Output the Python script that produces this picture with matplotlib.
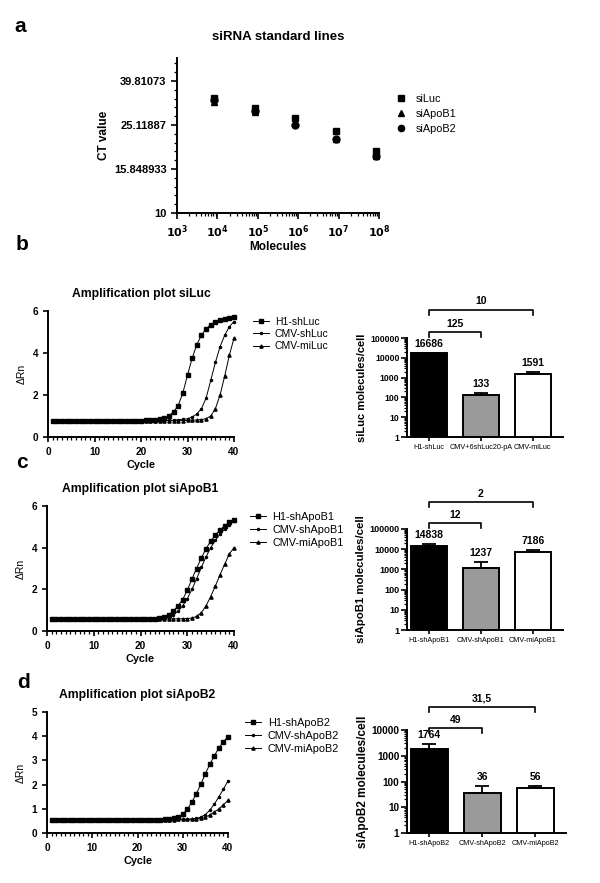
import numpy as np
import matplotlib
matplotlib.use('Agg')
import matplotlib.pyplot as plt
from matplotlib.ticker import FixedLocator, NullFormatter, MultipleLocator, LogLocator

plt.rcParams['font.family'] = ['Liberation Sans', 'DejaVu Sans']

# ---------------- data ----------------
# panel a: standard lines
molecules = [8.4e3, 8.4e4, 8.4e5, 8.4e6, 8.4e7]
ct_siLuc = [33.4, 30.1, 27.0, 23.5, 19.2]
ct_siApoB1 = [32.1, 28.9, 25.3, 21.7, 18.1]
ct_siApoB2 = [32.6, 29.1, 25.1, 21.7, 18.1]
ct_yticks = [10, 15.848933, 25.11887, 39.81073]
ct_yticklabels = ['10', '15.848933', '25.11887', '39.81073']

cycles = list(range(1, 41))

# panel b amplification siLuc
b_H1_shLuc = [0.74, 0.74, 0.74, 0.74, 0.75, 0.75, 0.75, 0.75, 0.75, 0.75,
              0.75, 0.76, 0.76, 0.76, 0.76, 0.77, 0.77, 0.77, 0.78, 0.78,
              0.79, 0.80, 0.82, 0.85, 0.90, 1.00, 1.20, 1.50, 2.10, 2.95,
              3.75, 4.40, 4.85, 5.15, 5.35, 5.48, 5.57, 5.64, 5.69, 5.72]
b_CMV_shLuc = [0.74, 0.74, 0.74, 0.74, 0.74, 0.75, 0.75, 0.75, 0.75, 0.75,
               0.75, 0.75, 0.75, 0.76, 0.76, 0.76, 0.76, 0.76, 0.77, 0.77,
               0.77, 0.77, 0.78, 0.78, 0.79, 0.79, 0.80, 0.82, 0.84, 0.87,
               0.95, 1.10, 1.35, 1.85, 2.70, 3.55, 4.30, 4.85, 5.25, 5.50]
b_CMV_miLuc = [0.74, 0.74, 0.74, 0.74, 0.74, 0.74, 0.75, 0.75, 0.75, 0.75,
               0.75, 0.75, 0.75, 0.75, 0.75, 0.76, 0.76, 0.76, 0.76, 0.76,
               0.76, 0.76, 0.77, 0.77, 0.77, 0.77, 0.78, 0.78, 0.78, 0.79,
               0.80, 0.81, 0.83, 0.87, 1.00, 1.35, 2.00, 2.90, 3.90, 4.70]
b_labels = ['H1-shLuc', 'CMV-shLuc', 'CMV-miLuc']

# panel c amplification siApoB1
c_H1_shApoB1 = [0.56, 0.56, 0.56, 0.56, 0.56, 0.56, 0.56, 0.56, 0.56, 0.56,
                0.56, 0.56, 0.56, 0.56, 0.57, 0.57, 0.57, 0.57, 0.57, 0.58,
                0.58, 0.58, 0.59, 0.62, 0.68, 0.78, 0.95, 1.20, 1.50, 1.95,
                2.50, 3.00, 3.50, 3.95, 4.30, 4.60, 4.85, 5.05, 5.22, 5.35]
c_CMV_shApoB1 = [0.56, 0.56, 0.56, 0.56, 0.56, 0.56, 0.56, 0.56, 0.56, 0.56,
                 0.56, 0.56, 0.56, 0.56, 0.56, 0.57, 0.57, 0.57, 0.57, 0.57,
                 0.58, 0.58, 0.58, 0.59, 0.62, 0.68, 0.78, 0.95, 1.20, 1.55,
                 2.00, 2.50, 3.05, 3.55, 4.00, 4.35, 4.65, 4.90, 5.10, 5.28]
c_CMV_miApoB1 = [0.56, 0.56, 0.56, 0.56, 0.56, 0.56, 0.56, 0.56, 0.56, 0.56,
                 0.56, 0.56, 0.56, 0.56, 0.56, 0.56, 0.56, 0.56, 0.57, 0.57,
                 0.57, 0.57, 0.57, 0.57, 0.58, 0.58, 0.58, 0.59, 0.59, 0.60,
                 0.62, 0.70, 0.88, 1.20, 1.65, 2.15, 2.70, 3.20, 3.70, 4.00]
c_labels = ['H1-shApoB1', 'CMV-shApoB1', 'CMV-miApoB1']

# panel d amplification siApoB2
d_H1_shApoB2 = [0.53, 0.53, 0.53, 0.53, 0.53, 0.53, 0.53, 0.53, 0.53, 0.53,
                0.53, 0.53, 0.53, 0.53, 0.53, 0.54, 0.54, 0.54, 0.54, 0.54,
                0.54, 0.54, 0.55, 0.55, 0.55, 0.56, 0.57, 0.60, 0.66, 0.78,
                0.98, 1.27, 1.62, 2.02, 2.45, 2.85, 3.20, 3.52, 3.78, 3.97]
d_CMV_shApoB2 = [0.53, 0.53, 0.53, 0.53, 0.53, 0.53, 0.53, 0.53, 0.53, 0.53,
                 0.53, 0.53, 0.53, 0.53, 0.53, 0.53, 0.54, 0.54, 0.54, 0.54,
                 0.54, 0.54, 0.54, 0.55, 0.55, 0.55, 0.55, 0.56, 0.56, 0.57,
                 0.57, 0.58, 0.60, 0.66, 0.76, 0.95, 1.20, 1.50, 1.82, 2.15]
d_CMV_miApoB2 = [0.53, 0.53, 0.53, 0.53, 0.53, 0.53, 0.53, 0.53, 0.53, 0.53,
                 0.53, 0.53, 0.53, 0.53, 0.53, 0.53, 0.53, 0.54, 0.54, 0.54,
                 0.54, 0.54, 0.54, 0.54, 0.55, 0.55, 0.55, 0.55, 0.56, 0.56,
                 0.56, 0.57, 0.58, 0.60, 0.65, 0.75, 0.87, 1.00, 1.17, 1.35]
d_labels = ['H1-shApoB2', 'CMV-shApoB2', 'CMV-miApoB2']

# bar charts
bar_b_cats = ['H1-shLuc', 'CMV+6shLuc20-pA', 'CMV-miLuc']
bar_b_vals = [16686, 133, 1591]
bar_b_err = [1300, 40, 220]
bar_b_fold = [('125', 0, 1), ('10', 0, 2)]

bar_c_cats = ['H1-shApoB1', 'CMV-shApoB1', 'CMV-miApoB1']
bar_c_vals = [14838, 1237, 7186]
bar_c_err = [2400, 1150, 1900]
bar_c_fold = [('12', 0, 1), ('2', 0, 2)]

bar_d_cats = ['H1-shApoB2', 'CMV-shApoB2', 'CMV-miApoB2']
bar_d_vals = [1764, 36, 56]
bar_d_err = [1000, 32, 12]
bar_d_fold = [('49', 0, 1), ('31,5', 0, 2)]

bar_colors = ['black', '#9a9a9a', 'white']

# ---------------- figure ----------------
W, H = 600, 883
fig = plt.figure(figsize=(6, 8.83), dpi=100)


def add_ax(l, r, t, b):
    return fig.add_axes([l / W, 1 - b / H, (r - l) / W, (b - t) / H])


def style(ax, lw=1.4):
    for s in ['top', 'right']:
        ax.spines[s].set_visible(False)
    for s in ['left', 'bottom']:
        ax.spines[s].set_linewidth(lw)
    ax.tick_params(which='major', width=1.2, length=4, direction='out')
    ax.tick_params(which='minor', width=0.9, length=2, direction='out')


def bold_ticks(ax, size):
    for lab in ax.get_xticklabels() + ax.get_yticklabels():
        lab.set_fontweight('bold')
        lab.set_fontsize(size)


# ---- panel a ----
ax = add_ax(177, 379, 58, 213)
style(ax)
ax.set_xscale('log')
ax.set_yscale('log')
ax.plot(molecules, ct_siLuc, 's', color='black', ms=5, label='siLuc', clip_on=False)
ax.plot(molecules, ct_siApoB1, '^', color='black', ms=5, label='siApoB1', clip_on=False)
ax.plot(molecules, ct_siApoB2, 'o', color='black', ms=5, label='siApoB2', clip_on=False)
ax.set_xlim(1e3, 1e8)
ax.set_ylim(10, 50.7)
ax.set_xticks([1e3, 1e4, 1e5, 1e6, 1e7, 1e8])
ax.set_xticklabels([r'$\mathbf{10^{%d}}$' % k for k in range(3, 9)])
ax.xaxis.set_minor_locator(LogLocator(base=10, subs=np.arange(2, 10), numticks=20))
ax.xaxis.set_minor_formatter(NullFormatter())
ax.set_yticks(ct_yticks)
ax.set_yticklabels(ct_yticklabels)
ax.yaxis.set_minor_locator(FixedLocator(10 ** np.arange(1.0, 1.71, 0.04)))
ax.yaxis.set_minor_formatter(NullFormatter())
bold_ticks(ax, 8)
ax.set_xlabel('Molecules', fontsize=8.5, fontweight='bold', labelpad=1)
ax.set_ylabel('CT value', fontsize=8.5, fontweight='bold', labelpad=3)
ax.set_title('siRNA standard lines', fontsize=9.5, fontweight='bold', pad=13)
ax.legend(loc='upper left', bbox_to_anchor=(1.04, 0.83), frameon=False,
          fontsize=7.8, handlelength=0.8, handletextpad=0.9, labelspacing=0.45,
          markerscale=0.9)


# ---- amplification plots ----
def amp_panel(box, series, labels, ymax, ystep, title, leg_anchor, fs_leg, lsp):
    ax = add_ax(*box)
    style(ax)
    markers = ['s', '.', '^']
    msz = [2.3, 3.0, 2.3]
    for vals, lab, mk, m in zip(series, labels, markers, msz):
        ax.plot(cycles, vals, '-', color='black', lw=0.7, marker=mk, ms=m,
                label=lab, clip_on=False)
    ax.set_xlim(0, 40)
    ax.set_ylim(0, ymax)
    ax.xaxis.set_major_locator(MultipleLocator(10))
    ax.xaxis.set_minor_locator(MultipleLocator(1))
    ax.yaxis.set_major_locator(MultipleLocator(ystep))
    ax.tick_params(which='major', length=3.5)
    ax.tick_params(which='minor', length=2)
    bold_ticks(ax, 7.2)
    ax.set_xlabel('Cycle', fontsize=7.8, fontweight='bold', labelpad=2)
    ax.set_ylabel('\u0394Rn', fontsize=7.5, labelpad=4)
    ax.set_title(title, fontsize=8.7, fontweight='bold', pad=10)
    ax.legend(loc='upper left', bbox_to_anchor=leg_anchor, frameon=False,
              fontsize=fs_leg, handlelength=1.5, handletextpad=0.6,
              labelspacing=lsp, borderaxespad=0)
    return ax


amp_panel((48, 234, 311, 437), [b_H1_shLuc, b_CMV_shLuc, b_CMV_miLuc], b_labels,
          6, 2, 'Amplification plot siLuc', (1.08, 0.985), 7.5, 0.2)
amp_panel((47, 234, 506, 631), [c_H1_shApoB1, c_CMV_shApoB1, c_CMV_miApoB1], c_labels,
          6, 2, 'Amplification plot siApoB1', (1.06, 0.985), 7.8, 0.25)
amp_panel((47, 228, 712, 833), [d_H1_shApoB2, d_CMV_shApoB2, d_CMV_miApoB2], d_labels,
          5, 1, 'Amplification plot siApoB2', (1.07, 0.985), 7.8, 0.25)


# ---- bar charts ----
def bar_panel(box, cats, vals, errs, folds, ylabel, ymax, fold_y, fs_ylab, fs_tick):
    ax = add_ax(*box)
    style(ax)
    ax.set_yscale('log')
    x = np.arange(len(cats))
    ax.bar(x, vals, width=0.7, color=bar_colors, edgecolor='black', linewidth=1.4,
           zorder=2)
    ax.errorbar(x, vals, yerr=[np.zeros(len(vals)), errs], fmt='none',
                ecolor='black', elinewidth=1.3, capsize=5, capthick=1.3, zorder=1)
    ax.set_xlim(-0.42, 2.58)
    ax.set_ylim(1, ymax)
    ax.set_xticks(x)
    ax.set_xticklabels(cats, fontsize=5.2)
    yt = [10 ** k for k in range(0, int(round(np.log10(ymax))) + 1)]
    ax.set_yticks(yt)
    ax.set_yticklabels([str(v) for v in yt])
    ax.yaxis.set_minor_locator(LogLocator(base=10, subs=np.arange(2, 10), numticks=20))
    ax.yaxis.set_minor_formatter(NullFormatter())
    ax.tick_params(axis='x', length=3, pad=2)
    ax.tick_params(axis='y', which='major', pad=1.5)
    for lab in ax.get_yticklabels():
        lab.set_fontweight('bold')
        lab.set_fontsize(fs_tick)
    ax.set_ylabel(ylabel, fontsize=fs_ylab, fontweight='bold', labelpad=2)
    for xi, v, e in zip(x, vals, errs):
        ax.annotate(str(v), (xi, v + e), xytext=(0, 3), textcoords='offset points',
                    ha='center', va='bottom', fontsize=7.5, fontweight='bold')
    tr = ax.get_xaxis_transform()
    for (txt, i0, i1), (yb, yt_) in zip(folds, fold_y):
        ax.plot([i0, i0, i1, i1], [yb - 0.05, yb, yb, yb - 0.05], color='black',
                lw=1.2, transform=tr, clip_on=False)
        ax.text((i0 + i1) / 2, yt_, txt, transform=tr, ha='center', va='center',
                fontsize=7.5, fontweight='bold')
    return ax


bar_panel((407, 563, 338, 437), bar_b_cats, bar_b_vals, bar_b_err, bar_b_fold,
          'siLuc molecules/cell', 1e5, [(1.06, 1.14), (1.28, 1.37)], 8, 6.2)
bar_panel((407, 563, 529, 630), bar_c_cats, bar_c_vals, bar_c_err, bar_c_fold,
          'siApoB1 molecules/cell', 1e5, [(1.06, 1.14), (1.27, 1.35)], 8.2, 6.5)
bar_panel((407, 566, 730, 833), bar_d_cats, bar_d_vals, bar_d_err, bar_d_fold,
          'siApoB2 molecules/cell', 1e4, [(1.02, 1.10), (1.22, 1.31)], 8.5, 7.2)

# panel letters
for letter, (px, py) in zip(['a', 'b', 'c', 'd'], [(20, 27), (22, 245), (22, 462), (23, 682)]):
    fig.text(px / W, 1 - py / H, letter, fontsize=15, fontweight='bold',
             ha='center', va='center')

fig.savefig('out.png', dpi=100)
